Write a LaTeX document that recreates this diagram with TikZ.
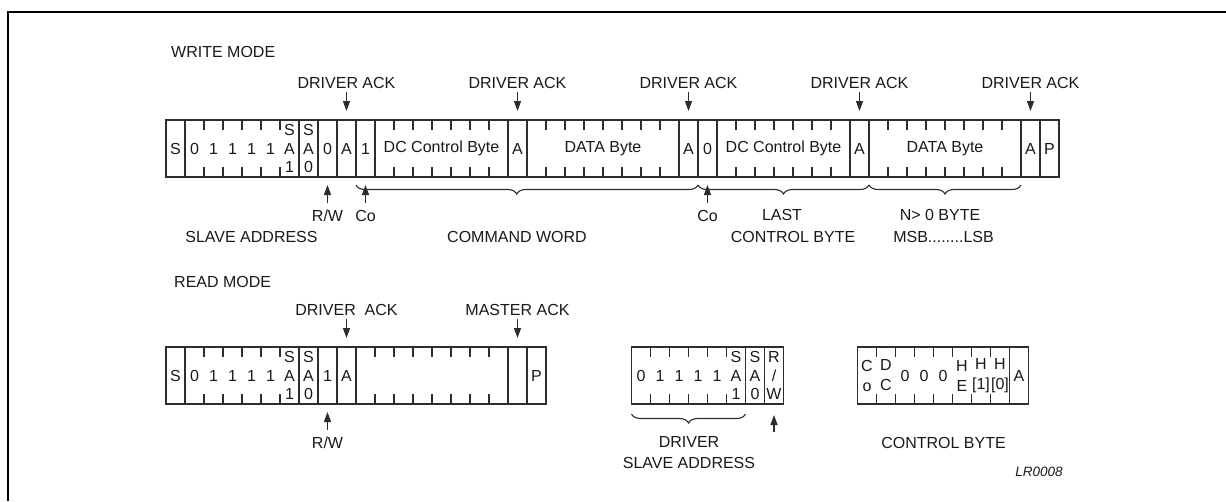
\documentclass[tikz,border=0pt]{standalone}
\usepackage{fontspec}
\setmainfont{Liberation Sans}
\usetikzlibrary{calc,positioning,arrows.meta,decorations.pathreplacing}
\definecolor{inkline}{RGB}{45,45,45}
\definecolor{inktext}{RGB}{25,25,25}
\newcommand{\dfont}{\fontsize{16}{18.5}\selectfont}
\tikzset{
  fieldbox/.style={draw=inkline,line width=1.2pt,minimum height=57pt,inner sep=0pt,
                   outer sep=0pt,anchor=north west,font=\dfont,text=inktext,align=center},
  tickline/.style={draw=inkline,line width=1.2pt},
  bittext/.style={font=\dfont,text=inktext,inner sep=0pt,align=center},
  lbl/.style={font=\dfont,text=inktext,inner sep=0pt,align=center},
  ackarrow/.style={draw=inkline,line width=1.3pt,-{Triangle[length=10pt,width=7pt]},
                   shorten <=3.5pt,shorten >=9pt},
  rwarrow/.style={draw=inkline,line width=1.3pt,-{Triangle[length=10pt,width=7pt]},
                  shorten <=7pt,shorten >=8pt},
  bracket/.style={draw=inkline,line width=1.1pt,decorate,decoration={brace,mirror,amplitude=9pt}},
  frameline/.style={draw=black,line width=2.5pt},
}
% field #1 of #5 cells, from cell #4 of the row at (#2,#3)
\newcommand{\bfield}[6]{%
  \node[fieldbox,minimum width={#5*19pt}] (#1) at ({#2+19*#4},#3) {#6};
  \ifnum#5>1
    \foreach \k in {2,...,#5}{%
      \draw[tickline] ($(#1.north west)+({19*(\k-1)},0)$) -- ++(0,10);
      \draw[tickline] ($(#1.south west)+({19*(\k-1)},0)$) -- ++(0,-10);}%
  \fi}
% text of one bit cell
\newcommand{\bitcell}[5]{\node[bittext] (#1) at ({#2+19*#4+9.5},{#3+28.5}) {#5};}

\begin{document}
\begin{tikzpicture}[x=1pt,y=-1pt]
  \useasboundingbox (0,0) rectangle (1226,501);
  \draw[frameline] (8,501) -- (8,12) -- (1226,12);

  % write mode
  \node[lbl,anchor=west] (wtitle) at (171,52) {WRITE MODE};
  \bfield{ws}{166}{120}{0}{1}{S}
  \bfield{waddr}{166}{120}{1}{6}{}
  \foreach \bv [count=\i] in {0,1,1,1,1}{\bitcell{wb\i}{166}{120}{\i}{\bv}}
  \bitcell{wsa1}{166}{120}{6}{S\\A\\1}
  \bfield{wsa0}{166}{120}{7}{1}{S\\A\\0}
  \bfield{wrw}{166}{120}{8}{1}{0}
  \bfield{wa1}{166}{120}{9}{1}{A}
  \bfield{wco1}{166}{120}{10}{1}{1}
  \bfield{wctl1}{166}{120}{11}{7}{DC Control Byte}
  \bfield{wa2}{166}{120}{18}{1}{A}
  \bfield{wdata1}{166}{120}{19}{8}{DATA Byte}
  \bfield{wa3}{166}{120}{27}{1}{A}
  \bfield{wco2}{166}{120}{28}{1}{0}
  \bfield{wctl2}{166}{120}{29}{7}{DC Control Byte}
  \bfield{wa4}{166}{120}{36}{1}{A}
  \bfield{wdata2}{166}{120}{37}{8}{DATA Byte}
  \bfield{wa5}{166}{120}{45}{1}{A}
  \bfield{wp}{166}{120}{46}{1}{P}

  \foreach \n in {1,...,5}{%
    \node[lbl,above=31.5pt of wa\n] (wack\n) {DRIVER ACK};
    \draw[ackarrow] (wack\n) -- (wa\n);}

  \node[lbl] (wrwl) at (327.5,216) {R/W};
  \node[lbl] (wcol1) at (365.5,216) {Co};
  \node[lbl] (wcol2) at (707.5,216) {Co};
  \draw[rwarrow] (wrwl) -- (wrw);
  \draw[rwarrow] (wcol1) -- (wco1);
  \draw[rwarrow] (wcol2) -- (wco2);

  \draw[bracket,decoration={aspect=0.47}] ($(wco1.south west)+(0,8)$) -- ($(wco2.south west)+(0,8)$);
  \draw[bracket] ($(wco2.south west)+(0,8)$) -- ($(wdata2.south west)+(0,8)$);
  \draw[bracket] ($(wdata2.south west)+(0,8)$) -- ($(wdata2.south east)+(0,8)$);

  \node[lbl] (wslave) at (251.5,237) {SLAVE ADDRESS};
  \node[lbl] (wcmd) at (517,237) {COMMAND WORD};
  \node[lbl] (wlast) at (782,215) {LAST};
  \node[lbl] (wlastctl) at (793,237) {CONTROL BYTE};
  \node[lbl] (wnbyte) at (940,215) {N> 0 BYTE};
  \node[lbl] (wmsb) at (943.5,237) {MSB........LSB};

  % read mode
  \node[lbl,anchor=west] (rtitle) at (174,282) {READ MODE};
  \bfield{rs}{166}{347}{0}{1}{S}
  \bfield{raddr}{166}{347}{1}{6}{}
  \foreach \bv [count=\i] in {0,1,1,1,1}{\bitcell{rb\i}{166}{347}{\i}{\bv}}
  \bitcell{rsa1}{166}{347}{6}{S\\A\\1}
  \bfield{rsa0}{166}{347}{7}{1}{S\\A\\0}
  \bfield{rrw}{166}{347}{8}{1}{1}
  \bfield{ra1}{166}{347}{9}{1}{A}
  \bfield{rdata}{166}{347}{10}{8}{}
  \bfield{rma}{166}{347}{18}{1}{}
  \bfield{rp}{166}{347}{19}{1}{P}

  \node[lbl,above=31.5pt of ra1] (rack) {DRIVER\ \ ACK};
  \node[lbl,above=31.5pt of rma] (rmack) {MASTER ACK};
  \draw[ackarrow] (rack) -- (ra1);
  \draw[ackarrow] (rmack) -- (rma);

  \node[lbl] (rrwl) at (327.5,443) {R/W};
  \draw[rwarrow] (rrwl) -- (rrw);

  % driver slave address
  \bfield{saddr}{631.5}{347}{0}{6}{}
  \foreach \bv [count=\i from 0] in {0,1,1,1,1}{\bitcell{sb\i}{631.5}{347}{\i}{\bv}}
  \bitcell{ssa1}{631.5}{347}{5}{S\\A\\1}
  \bfield{ssa0}{631.5}{347}{6}{1}{S\\A\\0}
  \bfield{srw}{631.5}{347}{7}{1}{R\\/\\W}
  \coordinate (srwtail) at (774,432);
  \draw[rwarrow,shorten <=0pt,shorten >=11pt] (srwtail) -- (srw);
  \draw[bracket] ($(saddr.south west)+(0,10)$) -- ($(saddr.south east)+(0,10)$);
  \node[lbl] (sdrv) at (689,452.5) {DRIVER\\[2.5pt]SLAVE ADDRESS};

  % control byte
  \bfield{cbyte}{857.5}{347}{0}{8}{}
  \bitcell{cco}{857.5}{347}{0}{C\\[1.5pt]o}
  \bitcell{cdc}{857.5}{347}{1}{D\\[1.5pt]C}
  \foreach \i in {2,3,4}{\bitcell{cz\i}{857.5}{347}{\i}{0}}
  \bitcell{che}{857.5}{347}{5}{H\\[1.5pt]E}
  \bitcell{chi}{857.5}{347}{6}{H\\[1.5pt]{[1]}}
  \bitcell{clo}{857.5}{347}{7}{H\\[1.5pt]{[0]}}
  \bfield{cack}{857.5}{347}{8}{1}{A}
  \node[lbl] (ctitle) at (943.5,443) {CONTROL BYTE};
  \node[lbl,font=\fontsize{13.5}{16}\selectfont\itshape] (lrtag) at (1039,472) {LR0008};
\end{tikzpicture}
\end{document}
